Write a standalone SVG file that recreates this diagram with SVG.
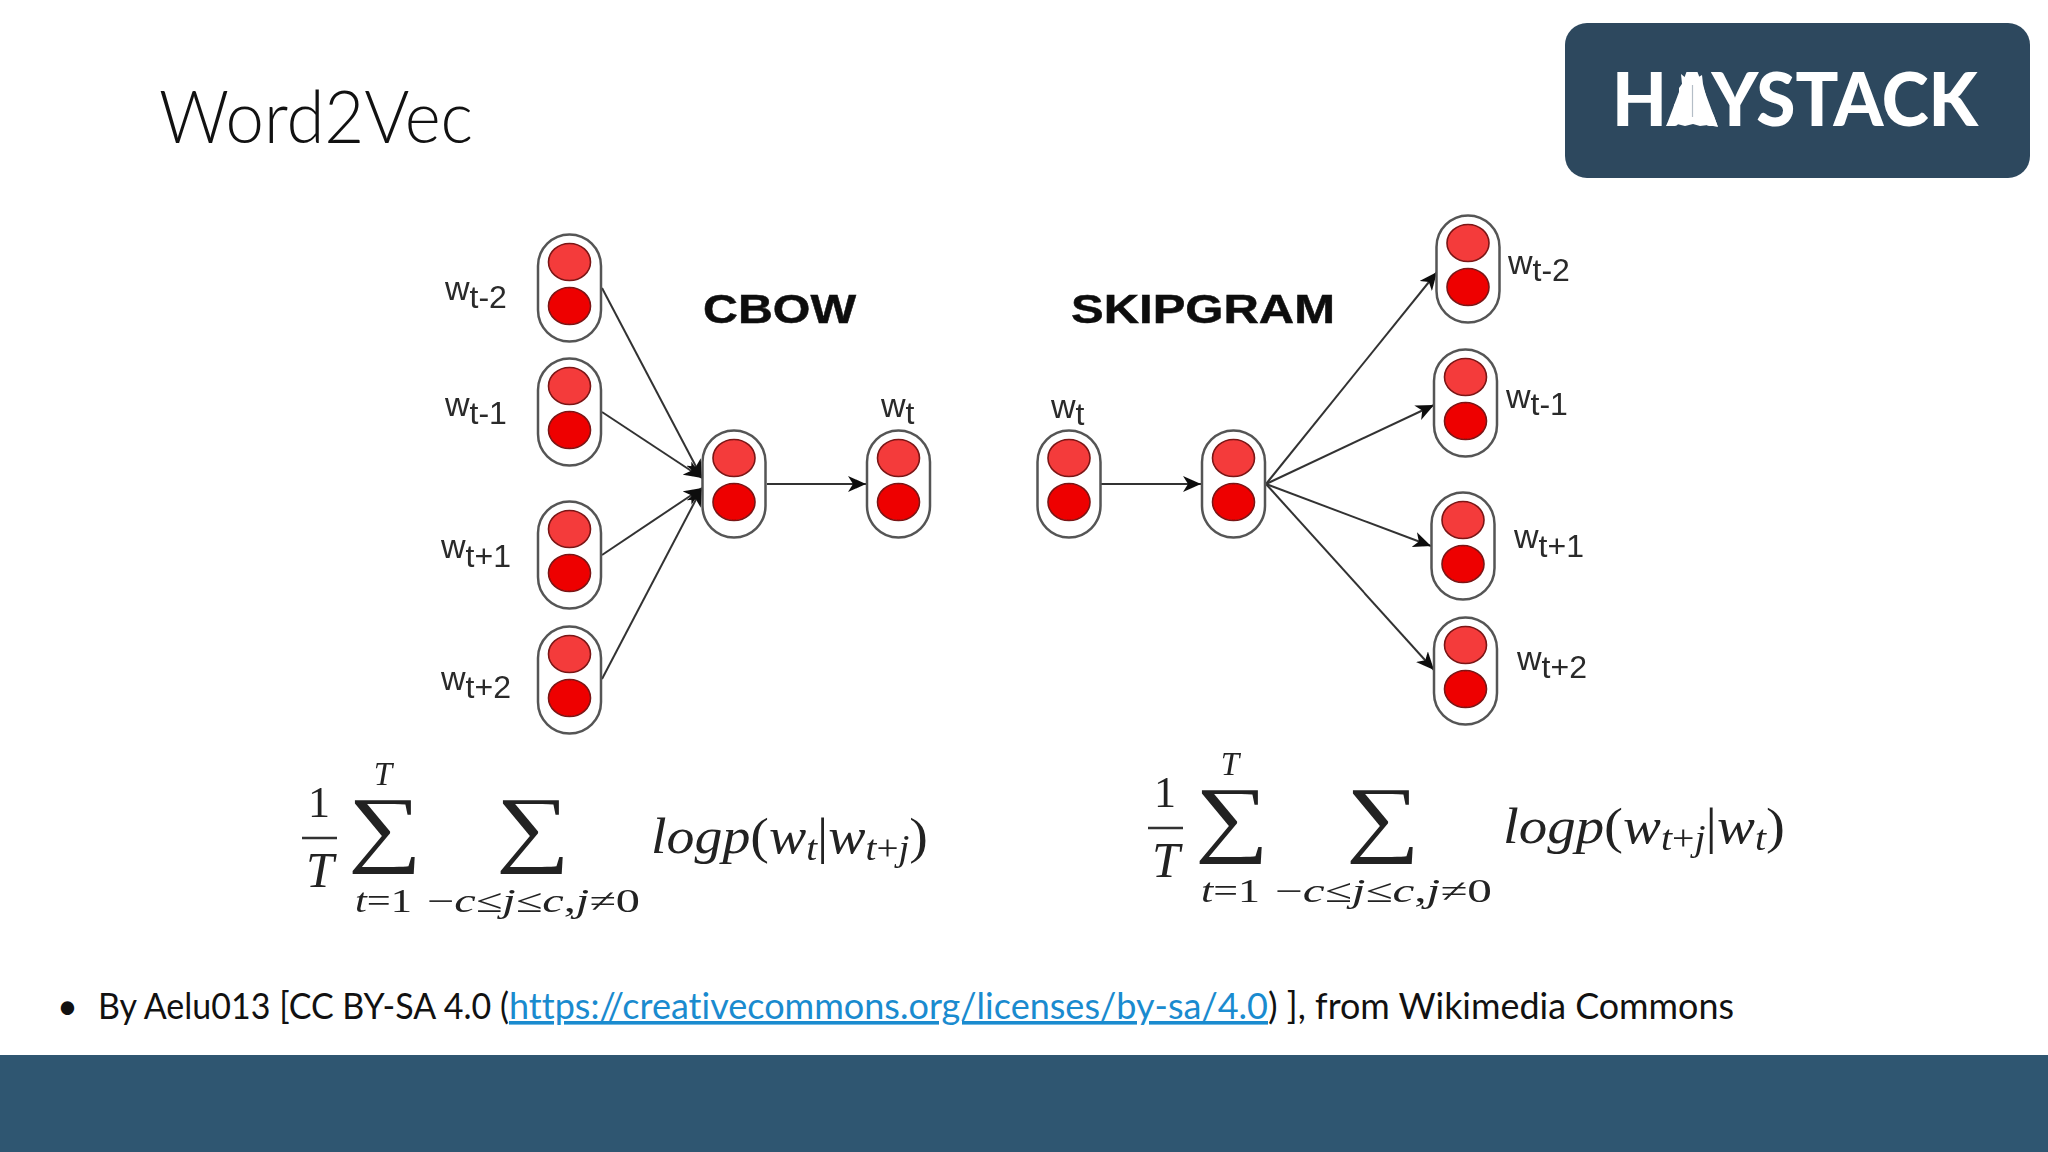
<svg xmlns="http://www.w3.org/2000/svg" width="2048" height="1152" viewBox="0 0 2048 1152">
<defs>
<style>
.cap{fill:#fff;stroke:#555;stroke-width:2.5}
.hi{fill:#f43b3b;stroke:#7a1414;stroke-width:1.6}
.lo{fill:#ee0000;stroke:#7a1414;stroke-width:1.6}
.lab{font-family:"Liberation Sans",Arial,sans-serif;font-size:34px;fill:#2a2a2a}
.lab .s{font-size:32px}
.hd{font-family:"Liberation Sans",Arial,sans-serif;font-weight:700;font-size:41px;fill:#111;stroke:#111;stroke-width:.5}
.m{font-family:"Liberation Serif","Times New Roman",serif;fill:#222}
.mi{font-style:italic}
.up{font-style:normal}
.sm{font-size:33px}
.lg{font-size:50px}
.ss{font-size:35px}
.sg{font-size:85px}
.con{stroke:#333;stroke-width:2;fill:none;marker-end:url(#arr)}
.body{font-family:Lato,"Open Sans",sans-serif;font-size:36px;fill:#111;font-variant-ligatures:none}
</style>
<marker id="arr" markerUnits="userSpaceOnUse" markerWidth="20" markerHeight="16" refX="18" refY="8" orient="auto"><path d="M0,0 L18,8 L0,16 L5,8 Z" fill="#111"/></marker>
<filter id="soft" x="-2%" y="-2%" width="104%" height="104%"><feGaussianBlur stdDeviation="0.6"/></filter>
<g id="dual"><rect class="cap" x="-31.5" y="-53.5" width="63" height="107" rx="31.5"/><ellipse class="hi" cx="0" cy="-26" rx="21" ry="18.5"/><ellipse class="lo" cx="0" cy="18" rx="21" ry="18.5"/></g>
</defs>
<rect width="2048" height="1152" fill="#fff"/>
<text x="159" y="143" font-family="Lato,'Open Sans',sans-serif" font-weight="300" font-size="73" fill="#111" textLength="314" lengthAdjust="spacingAndGlyphs">Word2Vec</text>
<g id="logo">
<rect x="1565" y="23" width="465" height="155" rx="22" fill="#2d485e"/>
<text x="1612" y="126" font-family="Lato,'Open Sans',sans-serif" font-weight="900" font-size="74" fill="#fff" textLength="366" lengthAdjust="spacingAndGlyphs">HAYSTACK</text>
<polygon fill="#fff" points="1666,126 1671,117 1675,112 1674,105 1679,98 1679,88 1682,84 1681,74 1687,79 1693,73 1697,78 1702,75 1703,84 1705,92 1707,100 1710,108 1714,116 1718,127 1708,125 1700,126 1693,124 1685,126 1677,124"/>
<line x1="1692.5" y1="85" x2="1692.5" y2="117" stroke="#b4bdc6" stroke-width="1.2"/>
</g>
<g filter="url(#soft)">
<g id="connectors">
<path class="con" d="M602,288 L702,478"/>
<path class="con" d="M602,412 L702,478"/>
<path class="con" d="M602,555 L702,488"/>
<path class="con" d="M602,679 L702,488"/>
<path class="con" d="M767,484 L866,484"/>
<path class="con" d="M1101,484 L1201,484"/>
<path class="con" d="M1266,484 L1437,272"/>
<path class="con" d="M1266,484 L1434,405"/>
<path class="con" d="M1266,484 L1431,546"/>
<path class="con" d="M1266,484 L1434,670"/>
</g>
<g id="cbow-t-2"><use href="#dual" x="569.5" y="288"/><text class="lab" x="445" y="300">w<tspan class="s" dy="8">t-2</tspan></text></g>
<g id="cbow-t-1"><use href="#dual" x="569.5" y="412"/><text class="lab" x="445" y="416">w<tspan class="s" dy="8">t-1</tspan></text></g>
<g id="cbow-t+1"><use href="#dual" x="569.5" y="555"/><text class="lab" x="441" y="558">w<tspan class="s" dy="9">t+1</tspan></text></g>
<g id="cbow-t+2"><use href="#dual" x="569.5" y="680"/><text class="lab" x="441" y="690">w<tspan class="s" dy="8">t+2</tspan></text></g>
<g id="cbow-hidden"><use href="#dual" x="734" y="484"/></g>
<g id="cbow-out"><use href="#dual" x="898.5" y="484"/><text class="lab" x="881" y="417">w<tspan class="s" dy="7">t</tspan></text></g>
<g id="skip-in"><use href="#dual" x="1069" y="484"/><text class="lab" x="1051" y="418">w<tspan class="s" dy="7">t</tspan></text></g>
<g id="skip-hidden"><use href="#dual" x="1233.5" y="484"/></g>
<g id="skip-t-2"><use href="#dual" x="1468" y="269"/><text class="lab" x="1508" y="274">w<tspan class="s" dy="7">t-2</tspan></text></g>
<g id="skip-t-1"><use href="#dual" x="1465.5" y="403"/><text class="lab" x="1506" y="408">w<tspan class="s" dy="7">t-1</tspan></text></g>
<g id="skip-t+1"><use href="#dual" x="1463" y="546"/><text class="lab" x="1514" y="548">w<tspan class="s" dy="9">t+1</tspan></text></g>
<g id="skip-t+2"><use href="#dual" x="1465.5" y="671"/><text class="lab" x="1517" y="670">w<tspan class="s" dy="8">t+2</tspan></text></g>
<text class="hd" x="703" y="323" textLength="153" lengthAdjust="spacingAndGlyphs">CBOW</text>
<text class="hd" x="1071" y="323" textLength="264" lengthAdjust="spacingAndGlyphs">SKIPGRAM</text>
<g id="formula-cbow">
<text class="m" x="319" y="817" font-size="44" text-anchor="middle">1</text>
<line x1="302" y1="838" x2="337" y2="838" stroke="#333" stroke-width="2.5"/>
<text class="m mi" x="320" y="887" font-size="50" text-anchor="middle">T</text>
<text class="m mi sm" x="383" y="785" text-anchor="middle">T</text>
<text class="m sg" text-anchor="middle" transform="translate(385,856) scale(1.22,1)">∑</text>
<text class="m sg" text-anchor="middle" transform="translate(533,856) scale(1.22,1)">∑</text>
<text class="m mi sm" x="355" y="912" textLength="57" lengthAdjust="spacingAndGlyphs">t<tspan class="up">=1</tspan></text>
<text class="m mi sm" x="427" y="912" textLength="213" lengthAdjust="spacingAndGlyphs"><tspan class="up">−</tspan>c<tspan class="up">≤</tspan>j<tspan class="up">≤</tspan>c<tspan class="up">,</tspan>j<tspan class="up">≠0</tspan></text>
<text class="m mi lg" x="651" y="853" textLength="277" lengthAdjust="spacingAndGlyphs">logp<tspan class="up">(</tspan>w<tspan class="ss" dy="7">t</tspan><tspan class="up" dy="-7">|</tspan>w<tspan class="ss" dy="7">t<tspan class="up">+</tspan>j</tspan><tspan class="up" dy="-7">)</tspan></text>
</g>
<g id="formula-skipgram">
<text class="m" x="1165" y="807" font-size="44" text-anchor="middle">1</text>
<line x1="1148" y1="828" x2="1183" y2="828" stroke="#333" stroke-width="2.5"/>
<text class="m mi" x="1166" y="877" font-size="50" text-anchor="middle">T</text>
<text class="m mi sm" x="1230" y="775" text-anchor="middle">T</text>
<text class="m sg" text-anchor="middle" transform="translate(1232,846) scale(1.22,1)">∑</text>
<text class="m sg" text-anchor="middle" transform="translate(1383,846) scale(1.22,1)">∑</text>
<text class="m mi sm" x="1201" y="902" textLength="59" lengthAdjust="spacingAndGlyphs">t<tspan class="up">=1</tspan></text>
<text class="m mi sm" x="1275" y="902" textLength="217" lengthAdjust="spacingAndGlyphs"><tspan class="up">−</tspan>c<tspan class="up">≤</tspan>j<tspan class="up">≤</tspan>c<tspan class="up">,</tspan>j<tspan class="up">≠0</tspan></text>
<text class="m mi lg" x="1503" y="843" textLength="282" lengthAdjust="spacingAndGlyphs">logp<tspan class="up">(</tspan>w<tspan class="ss" dy="7">t<tspan class="up">+</tspan>j</tspan><tspan class="up" dy="-7">|</tspan>w<tspan class="ss" dy="7">t</tspan><tspan class="up" dy="-7">)</tspan></text>
</g>
</g>
<text class="body" x="57" y="1019">•</text>
<text class="body" x="98" y="1019" textLength="411" lengthAdjust="spacingAndGlyphs">By Aelu013 [CC BY-SA 4.0 (</text>
<text class="body" x="509" y="1019" style="fill:#1a8bcf;text-decoration:underline" textLength="759" lengthAdjust="spacingAndGlyphs">https://creativecommons.org/licenses/by-sa/4.0</text>
<text class="body" x="1268" y="1019" textLength="466" lengthAdjust="spacingAndGlyphs">) ], from Wikimedia Commons</text>
<rect x="0" y="1055" width="2048" height="97" fill="#2f5671"/>
</svg>
